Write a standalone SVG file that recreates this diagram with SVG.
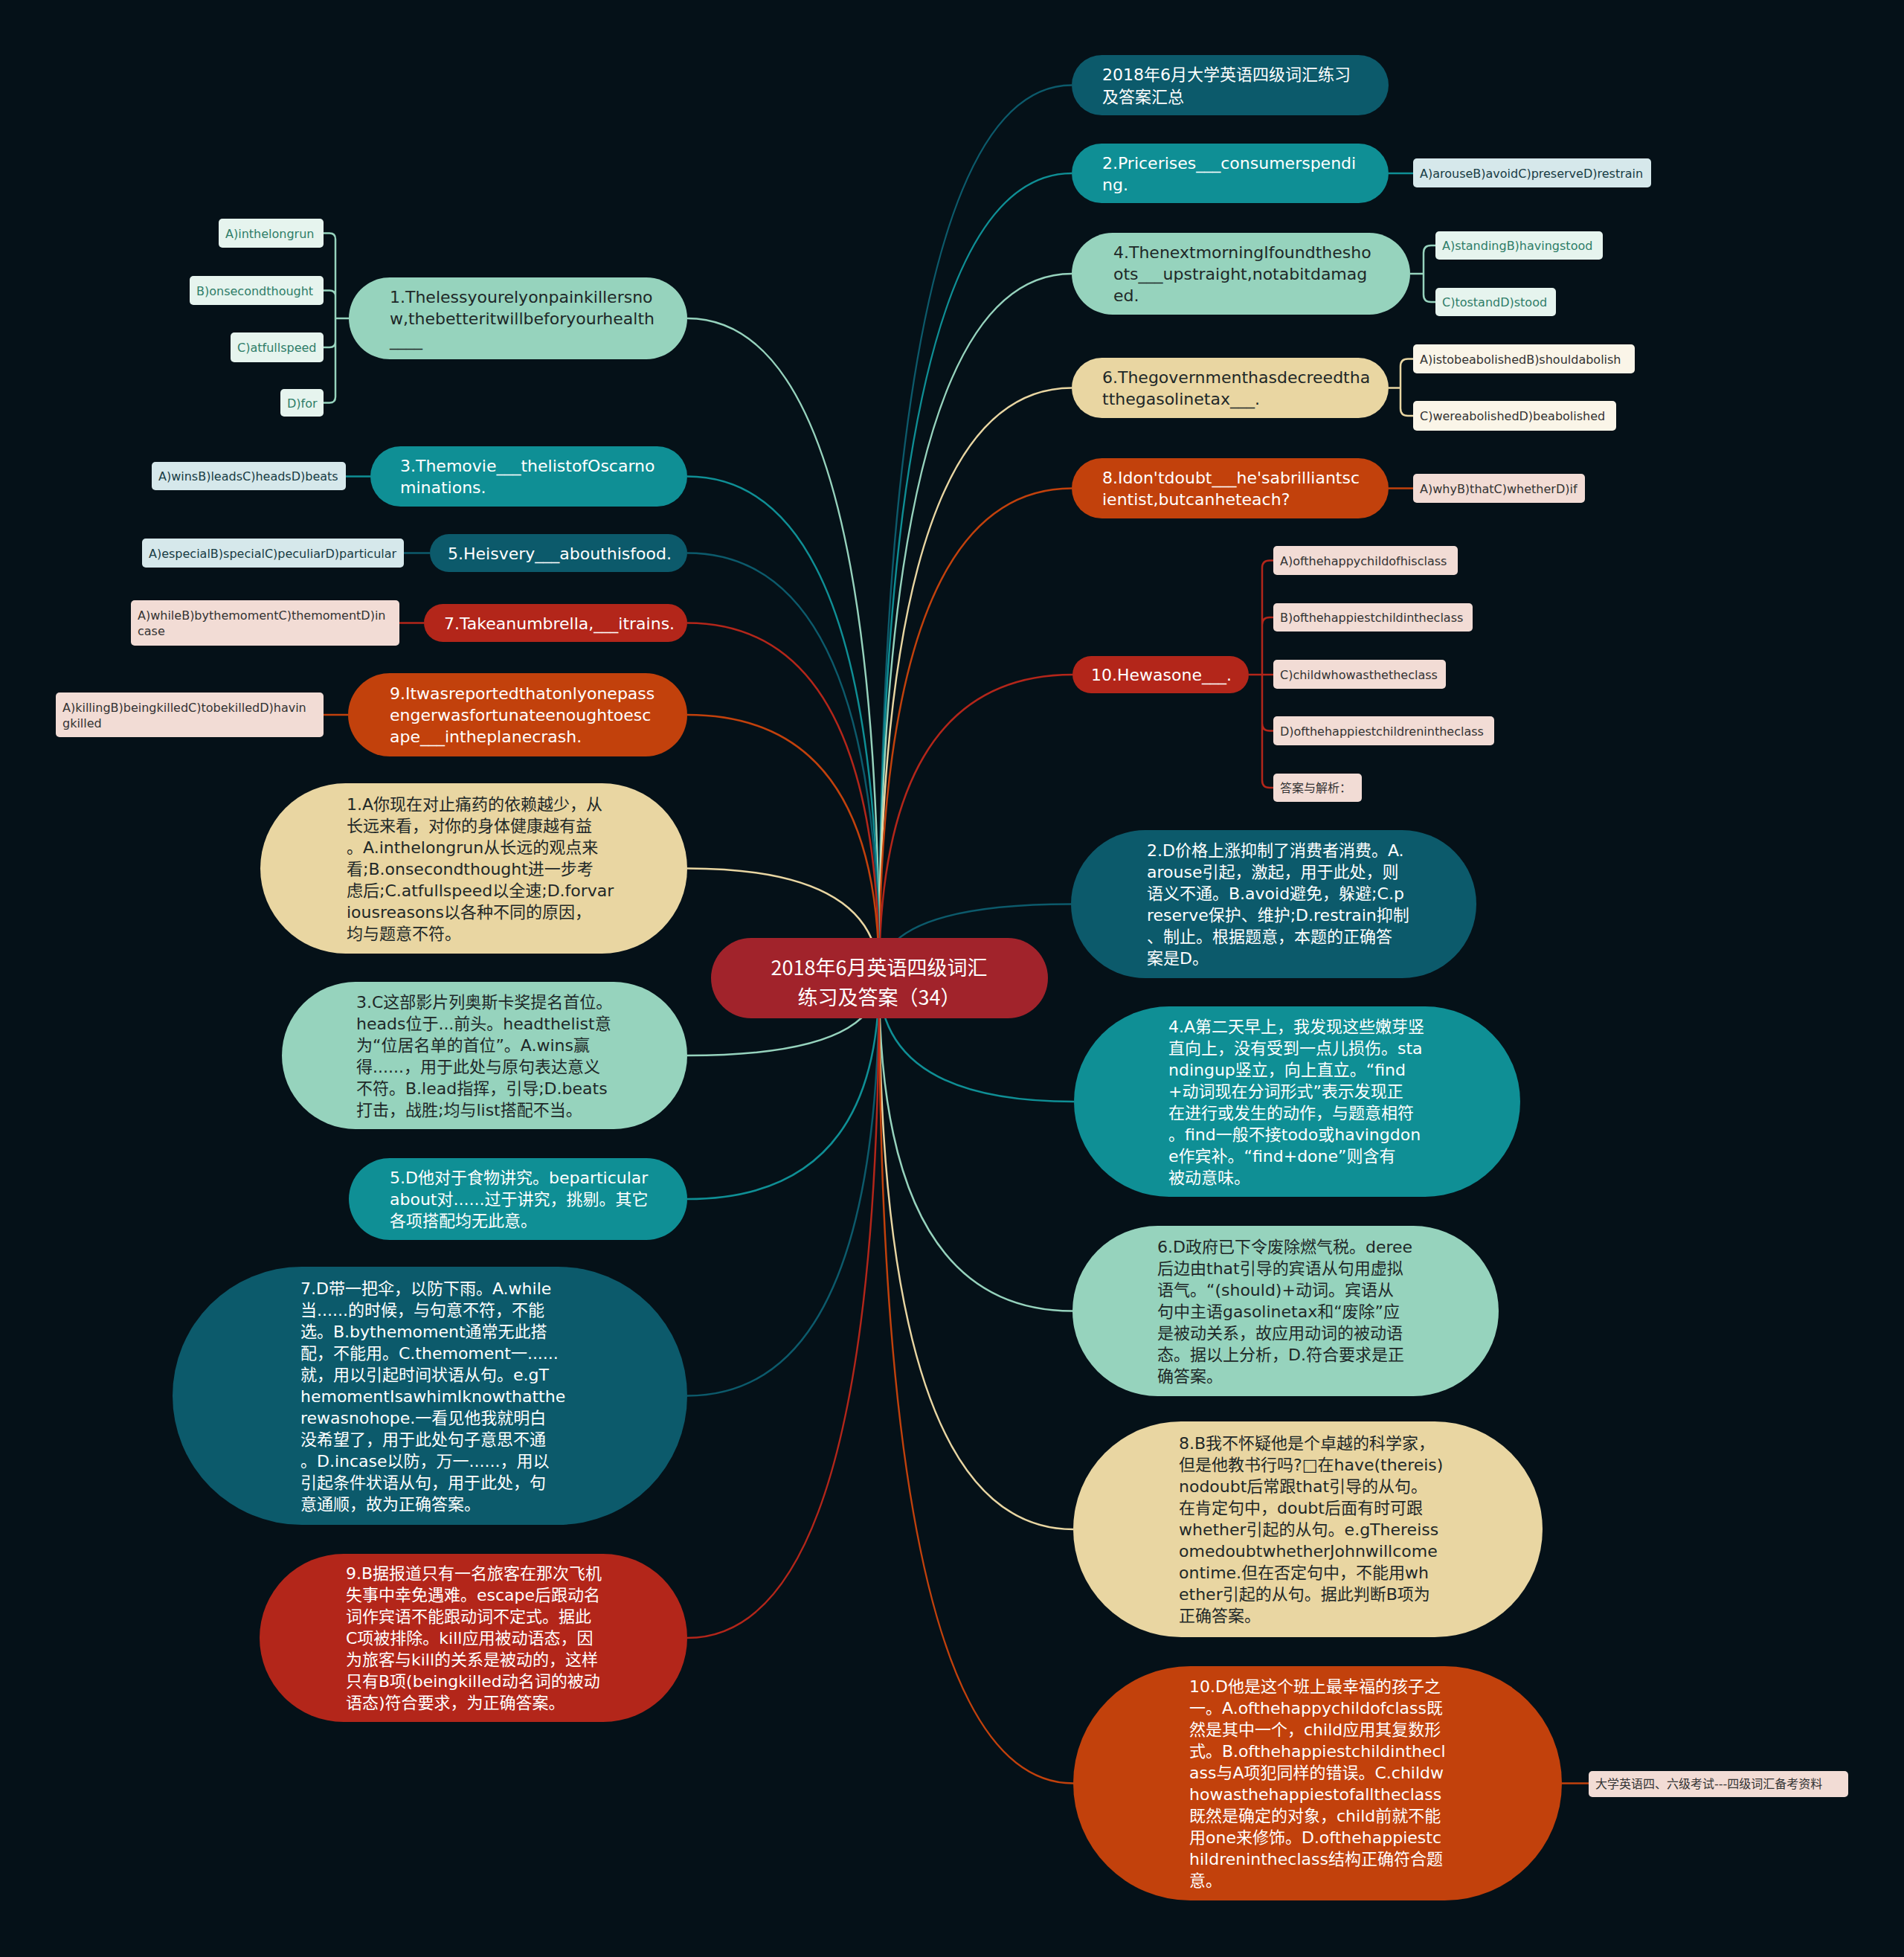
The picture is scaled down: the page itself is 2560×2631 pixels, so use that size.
<svg xmlns="http://www.w3.org/2000/svg" width="2560" height="2631" viewBox="0 0 2560 2631">
<style>
text{font-family:"DejaVu Sans","Noto Sans CJK SC",sans-serif;font-size:22px}
.w{fill:#ffffff}.k{fill:#1e2828}
.o{font-size:16px}
.og{fill:#2e7d68}.ot{fill:#173c44}.od{fill:#333333}
.cn{font-family:"Noto Sans CJK SC",sans-serif;font-size:27px;fill:#ffffff;text-anchor:middle}
.dt{fill:#0c5a6b}.tl{fill:#0f8f95}.mn{fill:#96d3bd}.bg{fill:#e9d6a2}.or{fill:#c2410c}.rd{fill:#b3261a}
.fdt{fill:#d6e8eb}.fmn{fill:#e6f4ee}.fbg{fill:#faf5e8}.frd{fill:#f2dcd5}
#connectors path{fill:none;stroke-width:2.5}
.sdt{stroke:#0c5a6b}.stl{stroke:#0f8f95}.smn{stroke:#96d3bd}.sbg{stroke:#e9d6a2}.sor{stroke:#c2410c}.srd{stroke:#b3261a}
</style>
<rect x="0" y="0" width="2560" height="2631" fill="#051118"/>
<g id="connectors">
<path class="sdt" d="M1182,1315 Q1182,114.5 1441,114.5"/>
<path class="stl" d="M1182,1315 Q1182,233 1441,233"/>
<path class="smn" d="M1182,1315 Q1182,368 1441,368"/>
<path class="sbg" d="M1182,1315 Q1182,521.5 1441,521.5"/>
<path class="sor" d="M1182,1315 Q1182,656.5 1441,656.5"/>
<path class="srd" d="M1182,1315 Q1182,907 1442,907"/>
<path class="sdt" d="M1182,1315 Q1182,1215.5 1440,1215.5"/>
<path class="stl" d="M1182,1315 Q1182,1481 1444,1481"/>
<path class="smn" d="M1182,1315 Q1182,1762.5 1442,1762.5"/>
<path class="sbg" d="M1182,1315 Q1182,2056 1443,2056"/>
<path class="sor" d="M1182,1315 Q1182,2397.5 1443,2397.5"/>
<path class="smn" d="M1182,1315 Q1182,428 924,428"/>
<path class="stl" d="M1182,1315 Q1182,640.5 924,640.5"/>
<path class="sdt" d="M1182,1315 Q1182,743.5 924,743.5"/>
<path class="srd" d="M1182,1315 Q1182,837.5 924,837.5"/>
<path class="sor" d="M1182,1315 Q1182,961 924,961"/>
<path class="sbg" d="M1182,1315 Q1182,1167.5 924,1167.5"/>
<path class="smn" d="M1182,1315 Q1182,1419 924,1419"/>
<path class="stl" d="M1182,1315 Q1182,1612 924,1612"/>
<path class="sdt" d="M1182,1315 Q1182,1876.5 924,1876.5"/>
<path class="srd" d="M1182,1315 Q1182,2202 924,2202"/>
<path class="stl" d="M1867,233 H1900"/>
<path class="smn" d="M1896,368 H1914 M1914,368 V340 Q1914,330 1924,330 H1930 M1914,368 V396 Q1914,406 1924,406 H1930"/>
<path class="sbg" d="M1867,521.5 H1883 M1883,521.5 V492.5 Q1883,482.5 1893,482.5 H1900 M1883,521.5 V549 Q1883,559 1893,559 H1900"/>
<path class="sor" d="M1867,656.5 H1900"/>
<path class="srd" d="M1679,907 H1712 M1697,907 V763.5 Q1697,753.5 1707,753.5 H1712 M1697,907 V840 Q1697,830 1707,830 H1712 M1697,907 V972.5 Q1697,982.5 1707,982.5 H1712 M1697,907 V1049 Q1697,1059 1707,1059 H1712"/>
<path class="smn" d="M469,428 H451 M451,428 V321.5 Q451,313.5 443,313.5 H435 M451,428 V398.5 Q451,390.5 443,390.5 H435 M451,428 V459 Q451,467 443,467 H435 M451,428 V533.5 Q451,541.5 443,541.5 H435"/>
<path class="stl" d="M498,640.5 H465"/>
<path class="sdt" d="M578,743.5 H543"/>
<path class="srd" d="M570,837.5 H537"/>
<path class="sor" d="M468,961 H435"/>
<path class="sor" d="M2100,2397.5 H2136"/>
</g>
<g id="center">
<rect x="956" y="1261" width="453" height="108" rx="54" fill="#a1232b"/>
<text class="cn"><tspan x="1182" y="1311">2018年6月英语四级词汇</tspan><tspan x="1182" y="1351">练习及答案（34）</tspan></text>
</g>
<g id="a1">
<rect class="dt" x="1441" y="74" width="426" height="81" rx="40.5"/>
<text class="w"><tspan x="1482" y="108">2018年6月大学英语四级词汇练习</tspan><tspan x="1482" y="137.5">及答案汇总</tspan></text>
</g>
<g id="a2">
<rect class="tl" x="1441" y="193" width="426" height="80" rx="40"/>
<text class="w"><tspan x="1482" y="226.5">2.Pricerises___consumerspendi</tspan><tspan x="1482" y="255.5">ng.</tspan></text>
</g>
<g id="a2o">
<rect class="fdt" x="1900" y="213" width="320" height="39" rx="5"/>
<text class="o ot" x="1909" y="238.5">A)arouseB)avoidC)preserveD)restrain</text>
</g>
<g id="a3">
<rect class="mn" x="1441" y="313" width="455" height="110" rx="55"/>
<text class="k"><tspan x="1497" y="347">4.ThenextmorningIfoundthesho</tspan><tspan x="1497" y="376">ots___upstraight,notabitdamag</tspan><tspan x="1497" y="405">ed.</tspan></text>
</g>
<g id="a3o1">
<rect class="fmn" x="1930" y="311" width="225" height="38" rx="5"/>
<text class="o og" x="1939" y="336">A)standingB)havingstood</text>
</g>
<g id="a3o2">
<rect class="fmn" x="1930" y="387" width="162" height="38" rx="5"/>
<text class="o og" x="1939" y="412">C)tostandD)stood</text>
</g>
<g id="a4">
<rect class="bg" x="1441" y="481" width="426" height="81" rx="40.5"/>
<text class="k"><tspan x="1482" y="515">6.Thegovernmenthasdecreedtha</tspan><tspan x="1482" y="544">tthegasolinetax___.</tspan></text>
</g>
<g id="a4o1">
<rect class="fbg" x="1900" y="463" width="298" height="39" rx="5"/>
<text class="o od" x="1909" y="488.5">A)istobeabolishedB)shouldabolish</text>
</g>
<g id="a4o2">
<rect class="fbg" x="1900" y="539" width="273" height="40" rx="5"/>
<text class="o od" x="1909" y="565">C)wereabolishedD)beabolished</text>
</g>
<g id="a5">
<rect class="or" x="1441" y="616" width="426" height="81" rx="40.5"/>
<text class="w"><tspan x="1482" y="650">8.Idon'tdoubt___he'sabrilliantsc</tspan><tspan x="1482" y="679">ientist,butcanheteach?</tspan></text>
</g>
<g id="a5o">
<rect class="frd" x="1900" y="637" width="231" height="39" rx="5"/>
<text class="o od" x="1909" y="662.5">A)whyB)thatC)whetherD)if</text>
</g>
<g id="a6">
<rect class="rd" x="1442" y="882" width="237" height="50" rx="25"/>
<text class="w" x="1467" y="915">10.Hewasone___.</text>
</g>
<g id="a6o1">
<rect class="frd" x="1712" y="734" width="248" height="39" rx="5"/>
<text class="o od" x="1721" y="759.5">A)ofthehappychildofhisclass</text>
</g>
<g id="a6o2">
<rect class="frd" x="1712" y="811" width="268" height="38" rx="5"/>
<text class="o od" x="1721" y="836">B)ofthehappiestchildintheclass</text>
</g>
<g id="a6o3">
<rect class="frd" x="1712" y="887" width="232" height="39" rx="5"/>
<text class="o od" x="1721" y="912.5">C)childwhowasthetheclass</text>
</g>
<g id="a6o4">
<rect class="frd" x="1712" y="963" width="297" height="39" rx="5"/>
<text class="o od" x="1721" y="988.5">D)ofthehappiestchildrenintheclass</text>
</g>
<g id="a6o5">
<rect class="frd" x="1712" y="1040" width="119" height="38" rx="5"/>
<text class="o od" x="1721" y="1065">答案与解析：</text>
</g>
<g id="b2">
<rect class="dt" x="1440" y="1116" width="545" height="199" rx="99.5"/>
<text class="w"><tspan x="1542" y="1151">2.D价格上涨抑制了消费者消费。A.</tspan><tspan x="1542" y="1180">arouse引起，激起，用于此处，则</tspan><tspan x="1542" y="1209">语义不通。B.avoid避免，躲避;C.p</tspan><tspan x="1542" y="1238">reserve保护、维护;D.restrain抑制</tspan><tspan x="1542" y="1267">、制止。根据题意，本题的正确答</tspan><tspan x="1542" y="1296">案是D。</tspan></text>
</g>
<g id="b4">
<rect class="tl" x="1444" y="1353" width="600" height="256" rx="128"/>
<text class="w"><tspan x="1571" y="1387.5">4.A第二天早上，我发现这些嫩芽竖</tspan><tspan x="1571" y="1416.5">直向上，没有受到一点儿损伤。sta</tspan><tspan x="1571" y="1445.5">ndingup竖立，向上直立。“find</tspan><tspan x="1571" y="1474.5">+动词现在分词形式”表示发现正</tspan><tspan x="1571" y="1503.5">在进行或发生的动作，与题意相符</tspan><tspan x="1571" y="1532.5">。find一般不接todo或havingdon</tspan><tspan x="1571" y="1561.5">e作宾补。“find+done”则含有</tspan><tspan x="1571" y="1590.5">被动意味。</tspan></text>
</g>
<g id="b6">
<rect class="mn" x="1442" y="1648" width="573" height="229" rx="114.5"/>
<text class="k"><tspan x="1556" y="1683.5">6.D政府已下令废除燃气税。deree</tspan><tspan x="1556" y="1712.5">后边由that引导的宾语从句用虚拟</tspan><tspan x="1556" y="1741.5">语气。“(should)+动词。宾语从</tspan><tspan x="1556" y="1770.5">句中主语gasolinetax和“废除”应</tspan><tspan x="1556" y="1799.5">是被动关系，故应用动词的被动语</tspan><tspan x="1556" y="1828.5">态。据以上分析，D.符合要求是正</tspan><tspan x="1556" y="1857.5">确答案。</tspan></text>
</g>
<g id="b8">
<rect class="bg" x="1443" y="1911" width="631" height="290" rx="145"/>
<text class="k"><tspan x="1585" y="1948">8.B我不怀疑他是个卓越的科学家，</tspan><tspan x="1585" y="1977">但是他教书行吗?□在have(thereis)</tspan><tspan x="1585" y="2006">nodoubt后常跟that引导的从句。</tspan><tspan x="1585" y="2035">在肯定句中，doubt后面有时可跟</tspan><tspan x="1585" y="2064">whether引起的从句。e.gThereiss</tspan><tspan x="1585" y="2093">omedoubtwhetherJohnwillcome</tspan><tspan x="1585" y="2122">ontime.但在否定句中，不能用wh</tspan><tspan x="1585" y="2151">ether引起的从句。据此判断B项为</tspan><tspan x="1585" y="2180">正确答案。</tspan></text>
</g>
<g id="b10">
<rect class="or" x="1443" y="2240" width="657" height="315" rx="157.5"/>
<text class="w"><tspan x="1599" y="2275">10.D他是这个班上最幸福的孩子之</tspan><tspan x="1599" y="2304">一。A.ofthehappychildofclass既</tspan><tspan x="1599" y="2333">然是其中一个，child应用其复数形</tspan><tspan x="1599" y="2362">式。B.ofthehappiestchildinthecl</tspan><tspan x="1599" y="2391">ass与A项犯同样的错误。C.childw</tspan><tspan x="1599" y="2420">howasthehappiestofalltheclass</tspan><tspan x="1599" y="2449">既然是确定的对象，child前就不能</tspan><tspan x="1599" y="2478">用one来修饰。D.ofthehappiestc</tspan><tspan x="1599" y="2507">hildrenintheclass结构正确符合题</tspan><tspan x="1599" y="2536">意。</tspan></text>
</g>
<g id="b10o">
<rect class="frd" x="2136" y="2381" width="349" height="35" rx="5"/>
<text class="o od" x="2145" y="2404">大学英语四、六级考试---四级词汇备考资料</text>
</g>
<g id="l1">
<rect class="mn" x="469" y="373" width="455" height="110" rx="55"/>
<text class="k"><tspan x="524" y="407">1.Thelessyourelyonpainkillersno</tspan><tspan x="524" y="436">w,thebetteritwillbeforyourhealth</tspan><tspan x="524" y="465">____</tspan></text>
</g>
<g id="l1o1">
<rect class="fmn" x="294" y="294" width="141" height="39" rx="5"/>
<text class="o og" x="303" y="319.5">A)inthelongrun</text>
</g>
<g id="l1o2">
<rect class="fmn" x="255" y="371" width="180" height="39" rx="5"/>
<text class="o og" x="264" y="396.5">B)onsecondthought</text>
</g>
<g id="l1o3">
<rect class="fmn" x="310" y="447" width="125" height="40" rx="5"/>
<text class="o og" x="319" y="473">C)atfullspeed</text>
</g>
<g id="l1o4">
<rect class="fmn" x="377" y="523" width="58" height="37" rx="5"/>
<text class="o og" x="386" y="547.5">D)for</text>
</g>
<g id="l3">
<rect class="tl" x="498" y="600" width="426" height="81" rx="40.5"/>
<text class="w"><tspan x="538" y="634">3.Themovie___thelistofOscarno</tspan><tspan x="538" y="663">minations.</tspan></text>
</g>
<g id="l3o">
<rect class="fdt" x="204" y="621" width="261" height="38" rx="5"/>
<text class="o ot" x="213" y="646">A)winsB)leadsC)headsD)beats</text>
</g>
<g id="l5">
<rect class="dt" x="578" y="718" width="346" height="51" rx="25.5"/>
<text class="w" x="602" y="751.5">5.Heisvery___abouthisfood.</text>
</g>
<g id="l5o">
<rect class="fdt" x="191" y="724" width="352" height="39" rx="5"/>
<text class="o ot" x="200" y="749.5">A)especialB)specialC)peculiarD)particular</text>
</g>
<g id="l7">
<rect class="rd" x="570" y="812" width="354" height="51" rx="25.5"/>
<text class="w" x="597" y="845.5">7.Takeanumbrella,___itrains.</text>
</g>
<g id="l7o">
<rect class="frd" x="176" y="807" width="361" height="61" rx="5"/>
<text class="o od"><tspan x="185" y="833">A)whileB)bythemomentC)themomentD)in</tspan><tspan x="185" y="854">case</tspan></text>
</g>
<g id="l9">
<rect class="or" x="468" y="905" width="456" height="112" rx="56"/>
<text class="w"><tspan x="524" y="940">9.Itwasreportedthatonlyonepass</tspan><tspan x="524" y="969">engerwasfortunateenoughtoesc</tspan><tspan x="524" y="998">ape___intheplanecrash.</tspan></text>
</g>
<g id="l9o">
<rect class="frd" x="75" y="931" width="360" height="60" rx="5"/>
<text class="o od"><tspan x="84" y="956.5">A)killingB)beingkilledC)tobekilledD)havin</tspan><tspan x="84" y="977.5">gkilled</tspan></text>
</g>
<g id="e1">
<rect class="bg" x="350" y="1053" width="574" height="229" rx="114.5"/>
<text class="k"><tspan x="466" y="1088.5">1.A你现在对止痛药的依赖越少，从</tspan><tspan x="466" y="1117.5">长远来看，对你的身体健康越有益</tspan><tspan x="466" y="1146.5">。A.inthelongrun从长远的观点来</tspan><tspan x="466" y="1175.5">看;B.onsecondthought进一步考</tspan><tspan x="466" y="1204.5">虑后;C.atfullspeed以全速;D.forvar</tspan><tspan x="466" y="1233.5">iousreasons以各种不同的原因，</tspan><tspan x="466" y="1262.5">均与题意不符。</tspan></text>
</g>
<g id="e3">
<rect class="mn" x="379" y="1320" width="545" height="198" rx="99"/>
<text class="k"><tspan x="479" y="1354.5">3.C这部影片列奥斯卡奖提名首位。</tspan><tspan x="479" y="1383.5">heads位于...前头。headthelist意</tspan><tspan x="479" y="1412.5">为“位居名单的首位”。A.wins赢</tspan><tspan x="479" y="1441.5">得......，用于此处与原句表达意义</tspan><tspan x="479" y="1470.5">不符。B.lead指挥，引导;D.beats</tspan><tspan x="479" y="1499.5">打击，战胜;均与list搭配不当。</tspan></text>
</g>
<g id="e5">
<rect class="tl" x="469" y="1557" width="455" height="110" rx="55"/>
<text class="w"><tspan x="524" y="1591">5.D他对于食物讲究。beparticular</tspan><tspan x="524" y="1620">about对......过于讲究，挑剔。其它</tspan><tspan x="524" y="1649">各项搭配均无此意。</tspan></text>
</g>
<g id="e7">
<rect class="dt" x="232" y="1703" width="692" height="347" rx="173.5"/>
<text class="w"><tspan x="404" y="1739.5">7.D带一把伞，以防下雨。A.while</tspan><tspan x="404" y="1768.5">当......的时候，与句意不符，不能</tspan><tspan x="404" y="1797.5">选。B.bythemoment通常无此搭</tspan><tspan x="404" y="1826.5">配，不能用。C.themoment一......</tspan><tspan x="404" y="1855.5">就，用以引起时间状语从句。e.gT</tspan><tspan x="404" y="1884.5">hemomentIsawhimIknowthatthe</tspan><tspan x="404" y="1913.5">rewasnohope.一看见他我就明白</tspan><tspan x="404" y="1942.5">没希望了，用于此处句子意思不通</tspan><tspan x="404" y="1971.5">。D.incase以防，万一......，用以</tspan><tspan x="404" y="2000.5">引起条件状语从句，用于此处，句</tspan><tspan x="404" y="2029.5">意通顺，故为正确答案。</tspan></text>
</g>
<g id="e9">
<rect class="rd" x="349" y="2089" width="575" height="226" rx="113"/>
<text class="w"><tspan x="465" y="2123">9.B据报道只有一名旅客在那次飞机</tspan><tspan x="465" y="2152">失事中幸免遇难。escape后跟动名</tspan><tspan x="465" y="2181">词作宾语不能跟动词不定式。据此</tspan><tspan x="465" y="2210">C项被排除。kill应用被动语态，因</tspan><tspan x="465" y="2239">为旅客与kill的关系是被动的，这样</tspan><tspan x="465" y="2268">只有B项(beingkilled动名词的被动</tspan><tspan x="465" y="2297">语态)符合要求，为正确答案。</tspan></text>
</g>
</svg>
